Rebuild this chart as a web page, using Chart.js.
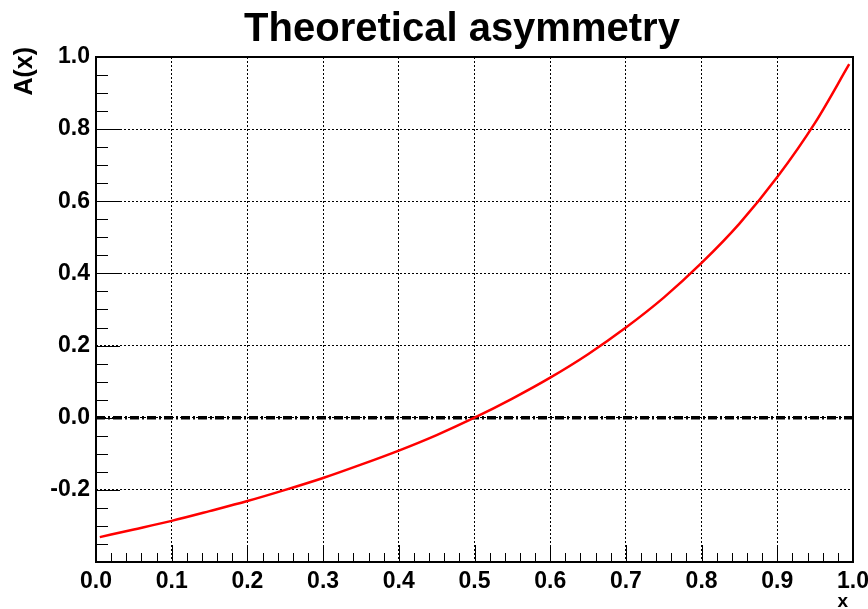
<!DOCTYPE html>
<html>
<head>
<meta charset="utf-8">
<script src="https://cdn.jsdelivr.net/npm/chart.js@4.4.0/dist/chart.umd.min.js"></script>
<style>
  html, body { margin: 0; padding: 0; background: #fff; }
  #wrap { width: 868px; height: 609px; }
</style>
</head>
<body>
<div id="wrap"><canvas id="asym" width="868" height="609"></canvas></div>
<script>
// values
const xValues = [0.005, 0.05, 0.1, 0.15, 0.2, 0.25, 0.3, 0.35, 0.4, 0.45, 0.5,
                 0.55, 0.6, 0.65, 0.7, 0.75, 0.8, 0.85, 0.9, 0.95, 0.995];
const asymValues = [-0.331, -0.310, -0.286, -0.259, -0.231, -0.200, -0.167, -0.130, -0.091, -0.048, 0.000,
                    0.053, 0.111, 0.176, 0.250, 0.333, 0.429, 0.538, 0.667, 0.818, 0.980];
const zeroX = [0.0, 1.0];
const zeroY = [0.0, 0.0];

const titleText = 'Theoretical asymmetry';
const xTitle = 'x';
const yTitle = 'A(x)';

const FONT = '"Liberation Sans", Arial, Helvetica, sans-serif';

function toPoints(xs, ys) {
    return xs.map((x, i) => ({ x: x, y: ys[i] }));
}

function fmt(v) {
    const r = Math.round(v * 10) / 10;
    return (r === 0 ? 0 : r).toFixed(1);
}

// frame, inward ticks and texts in ROOT style
const rootFrame = {
    id: 'rootFrame',
    afterDatasetsDraw(chart) {
        const ctx = chart.ctx;
        const area = chart.chartArea;
        const xs = chart.scales.x;
        const ys = chart.scales.y;
        ctx.save();
        ctx.strokeStyle = '#000';
        ctx.lineWidth = 1;
        ctx.beginPath();
        // x ticks: major every 0.1, minor every 0.02
        for (let i = 0; i <= 50; i++) {
            const px = Math.round(xs.getPixelForValue(i * 0.02)) + 0.5;
            const len = (i % 5 === 0) ? 17 : 9;
            ctx.moveTo(px, area.bottom);
            ctx.lineTo(px, area.bottom - len);
        }
        // y ticks: major every 0.2, minor every 0.05
        for (let i = 0; i <= 28; i++) {
            const py = Math.round(ys.getPixelForValue(-0.4 + i * 0.05)) + 0.5;
            const len = (i % 4 === 0) ? 24 : 12;
            ctx.moveTo(area.left, py);
            ctx.lineTo(area.left + len, py);
        }
        ctx.stroke();
        ctx.lineWidth = 2;
        ctx.strokeRect(area.left, area.top, area.right - area.left, area.bottom - area.top);

        ctx.fillStyle = '#000';
        ctx.font = 'bold 40px ' + FONT;
        ctx.textAlign = 'center';
        ctx.textBaseline = 'alphabetic';
        ctx.fillText(titleText, 462, 41);

        ctx.font = 'bold 19px ' + FONT;
        ctx.textAlign = 'right';
        ctx.fillText(xTitle, area.right - 5, 607);

        ctx.translate(32, area.top - 10);
        ctx.rotate(-Math.PI / 2);
        ctx.font = 'bold 25px ' + FONT;
        ctx.textAlign = 'right';
        ctx.fillText(yTitle, 0, 0);
        ctx.restore();
    }
};

new Chart(document.getElementById('asym'), {
    type: 'scatter',
    data: {
        datasets: [{
            data: toPoints(xValues, asymValues),
            showLine: true,
            borderColor: '#ff0000',
            borderWidth: 2.5,
            pointRadius: 0,
            tension: 0.4,
            cubicInterpolationMode: 'monotone',
            fill: false
        }, {
            data: toPoints(zeroX, zeroY),
            showLine: true,
            borderColor: '#000',
            borderWidth: 3.5,
            borderDash: [9, 3, 2, 3],
            pointRadius: 0,
            fill: false
        }]
    },
    options: {
        responsive: false,
        animation: false,
        layout: { padding: { top: 57, right: 15, left: 0, bottom: 0 } },
        plugins: {
            legend: { display: false },
            tooltip: { enabled: false },
            title: { display: false }
        },
        scales: {
            x: {
                type: 'linear',
                min: 0,
                max: 1,
                afterFit(scale) {
                    scale.height = 47;
                    scale.paddingLeft = 0;
                    scale.paddingRight = 0;
                },
                ticks: {
                    stepSize: 0.1,
                    maxRotation: 0,
                    padding: 6,
                    color: '#000',
                    font: { family: FONT, size: 23, weight: 'bold' },
                    callback: v => fmt(v)
                },
                grid: { color: '#000', lineWidth: 1, drawTicks: false },
                border: { display: false, dash: [2, 2] }
            },
            y: {
                type: 'linear',
                min: -0.4,
                max: 1.0,
                afterFit(scale) {
                    scale.width = 96;
                    scale.paddingTop = 0;
                    scale.paddingBottom = 0;
                },
                ticks: {
                    stepSize: 0.2,
                    padding: 6,
                    color: '#000',
                    font: { family: FONT, size: 23, weight: 'bold' },
                    callback: v => (Math.abs(v + 0.4) < 1e-6 ? '' : fmt(v))
                },
                grid: { color: '#000', lineWidth: 1, drawTicks: false },
                border: { display: false, dash: [2, 2] }
            }
        }
    },
    plugins: [rootFrame]
});
</script>
</body>
</html>
